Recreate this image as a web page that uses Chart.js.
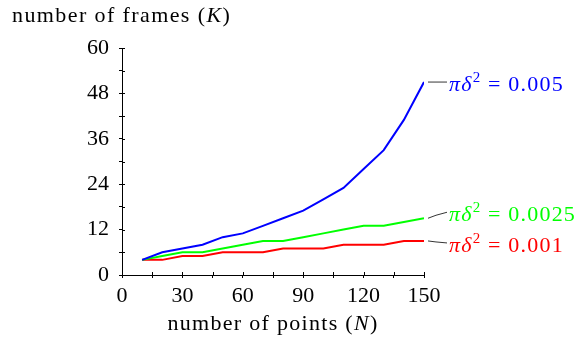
<!DOCTYPE html>
<html>
<head>
<meta charset="utf-8">
<script src="https://cdn.jsdelivr.net/npm/chart.js@4.4.1/dist/chart.umd.min.js"></script>
<style>
  html, body { margin: 0; padding: 0; background: #ffffff; }
  #wrap { width: 576px; height: 343px; position: relative; }
</style>
</head>
<body>
<div id="wrap"><canvas id="c" width="576" height="343"></canvas></div>
<script>
// ---- data ----
const pointCounts = [10, 20, 30, 40, 50, 60, 70, 80, 90, 100, 110, 120, 130, 140, 150];
const frames0005  = [4, 6, 7, 8, 10, 11, 13, 15, 17, 20, 23, 28, 33, 41, 51];
const frames00025 = [4, 5, 6, 6, 7, 8, 9, 9, 10, 11, 12, 13, 13, 14, 15];
const frames0001  = [4, 4, 5, 5, 6, 6, 6, 7, 7, 7, 8, 8, 8, 9, 9];
const seriesValues = ['0.005', '0.0025', '0.001'];
const xTickLabels = [0, 30, 60, 90, 120, 150];
const yTickLabels = [0, 12, 24, 36, 48, 60];
const xAxisTitle = ['number of points (', 'N', ')'];
const yAxisTitle = ['number of frames (', 'K', ')'];

// ---- styling ----
const FONT = '"Liberation Serif", "Times New Roman", serif';
const FS = 22;
const colors = ['#0000ff', '#00ff00', '#ff0000'];
const labelDy = [0, -6, 2];   // leader end offsets (px) for the end labels

function toPts(vals) { return pointCounts.map((x, i) => ({ x: x, y: vals[i] })); }

function drawRich(ctx, parts, x, y, align, spacing) {
  ctx.save();
  ctx.textBaseline = 'alphabetic';
  ctx.letterSpacing = spacing + 'px';
  const fontFor = p => (p.italic ? 'italic ' : '') + (p.sup ? Math.round(FS * 0.7) : FS) + 'px ' + FONT;
  let total = 0;
  parts.forEach(p => { ctx.font = fontFor(p); total += ctx.measureText(p.t).width; });
  let cx = align === 'center' ? x - total / 2 : x;
  parts.forEach(p => {
    ctx.font = fontFor(p);
    ctx.fillText(p.t, cx, p.sup ? y - FS * 0.42 : y);
    cx += ctx.measureText(p.t).width;
  });
  ctx.restore();
  return total;
}

const decorPlugin = {
  id: 'decor',
  afterDraw(chart) {
    const ctx = chart.ctx;
    const xs = chart.scales.x, ys = chart.scales.y;
    ctx.save();
    // inward half of the tick marks (ticks cross the axis)
    ctx.strokeStyle = '#000';
    ctx.lineWidth = 1;
    ctx.beginPath();
    xs.ticks.forEach(t => {
      const px = Math.round(xs.getPixelForValue(t.value)) + 0.5;
      ctx.moveTo(px, ys.bottom); ctx.lineTo(px, ys.bottom - 3);
    });
    ys.ticks.forEach(t => {
      const py = Math.round(ys.getPixelForValue(t.value)) + 0.5;
      ctx.moveTo(xs.left, py); ctx.lineTo(xs.left + 3, py);
    });
    ctx.stroke();

    // axis titles
    ctx.fillStyle = '#000';
    drawRich(ctx, [{ t: yAxisTitle[0] }, { t: yAxisTitle[1], italic: true }, { t: yAxisTitle[2] }], 12, 22, 'left', 1.4);
    drawRich(ctx, [{ t: xAxisTitle[0] }, { t: xAxisTitle[1], italic: true }, { t: xAxisTitle[2] }],
      (xs.left + xs.right) / 2, 330, 'center', 1.3);

    // end-of-line labels with leader lines
    chart.data.datasets.forEach((ds, i) => {
      const meta = chart.getDatasetMeta(i);
      const last = meta.data[meta.data.length - 1];
      const ex = last.x, ey = last.y;
      const ly = ey + labelDy[i];
      ctx.strokeStyle = '#000';
      ctx.lineWidth = 0.8;
      ctx.beginPath();
      ctx.moveTo(ex + 4, ey);
      ctx.lineTo(ex + 12, ey + (ly - ey) * 0.5);
      ctx.lineTo(ex + 23, ly);
      ctx.stroke();
      ctx.fillStyle = colors[i];
      drawRich(ctx, [
        { t: 'π', italic: true }, { t: 'δ', italic: true }, { t: '2', sup: true },
        { t: ' = ' + seriesValues[i] }
      ], ex + 25, ly + 9, 'left', 1.2);
    });
    ctx.restore();
  }
};

new Chart(document.getElementById('c'), {
  type: 'line',
  data: {
    datasets: [
      { data: toPts(frames0005), borderColor: colors[0] },
      { data: toPts(frames00025), borderColor: colors[1] },
      { data: toPts(frames0001), borderColor: colors[2] }
    ].map(d => Object.assign(d, { borderWidth: 2, pointRadius: 0, tension: 0, fill: false }))
  },
  options: {
    responsive: false,
    animation: false,
    devicePixelRatio: 1,
    layout: { padding: { left: 82, top: 48, right: 152, bottom: 38 } },
    plugins: { legend: { display: false }, tooltip: { enabled: false }, title: { display: false } },
    scales: {
      x: {
        type: 'linear', min: 0, max: 150,
        afterFit: s => { s.height = 30; },
        afterBuildTicks: s => {
          const arr = [];
          for (let v = 0; v <= 150; v += 15) arr.push({ value: v });
          s.ticks = arr;
        },
        ticks: {
          autoSkip: false, maxRotation: 0, padding: 5, color: '#000',
          font: { family: FONT, size: FS },
          callback: v => (xTickLabels.includes(v) ? String(v) : '')
        },
        grid: { display: true, drawOnChartArea: false, drawTicks: true, tickLength: 3, color: '#000', lineWidth: 1 },
        border: { display: true, color: '#000', width: 1 }
      },
      y: {
        type: 'linear', min: 0, max: 60,
        afterFit: s => { s.width = 40; },
        afterBuildTicks: s => {
          const arr = [];
          for (let v = 0; v <= 60; v += 6) arr.push({ value: v });
          s.ticks = arr;
        },
        ticks: {
          autoSkip: false, padding: 10, color: '#000',
          font: { family: FONT, size: FS },
          callback: v => (yTickLabels.includes(v) ? String(v) : '')
        },
        grid: { display: true, drawOnChartArea: false, drawTicks: true, tickLength: 3, color: '#000', lineWidth: 1 },
        border: { display: true, color: '#000', width: 1 }
      }
    }
  },
  plugins: [decorPlugin]
});
</script>
</body>
</html>
